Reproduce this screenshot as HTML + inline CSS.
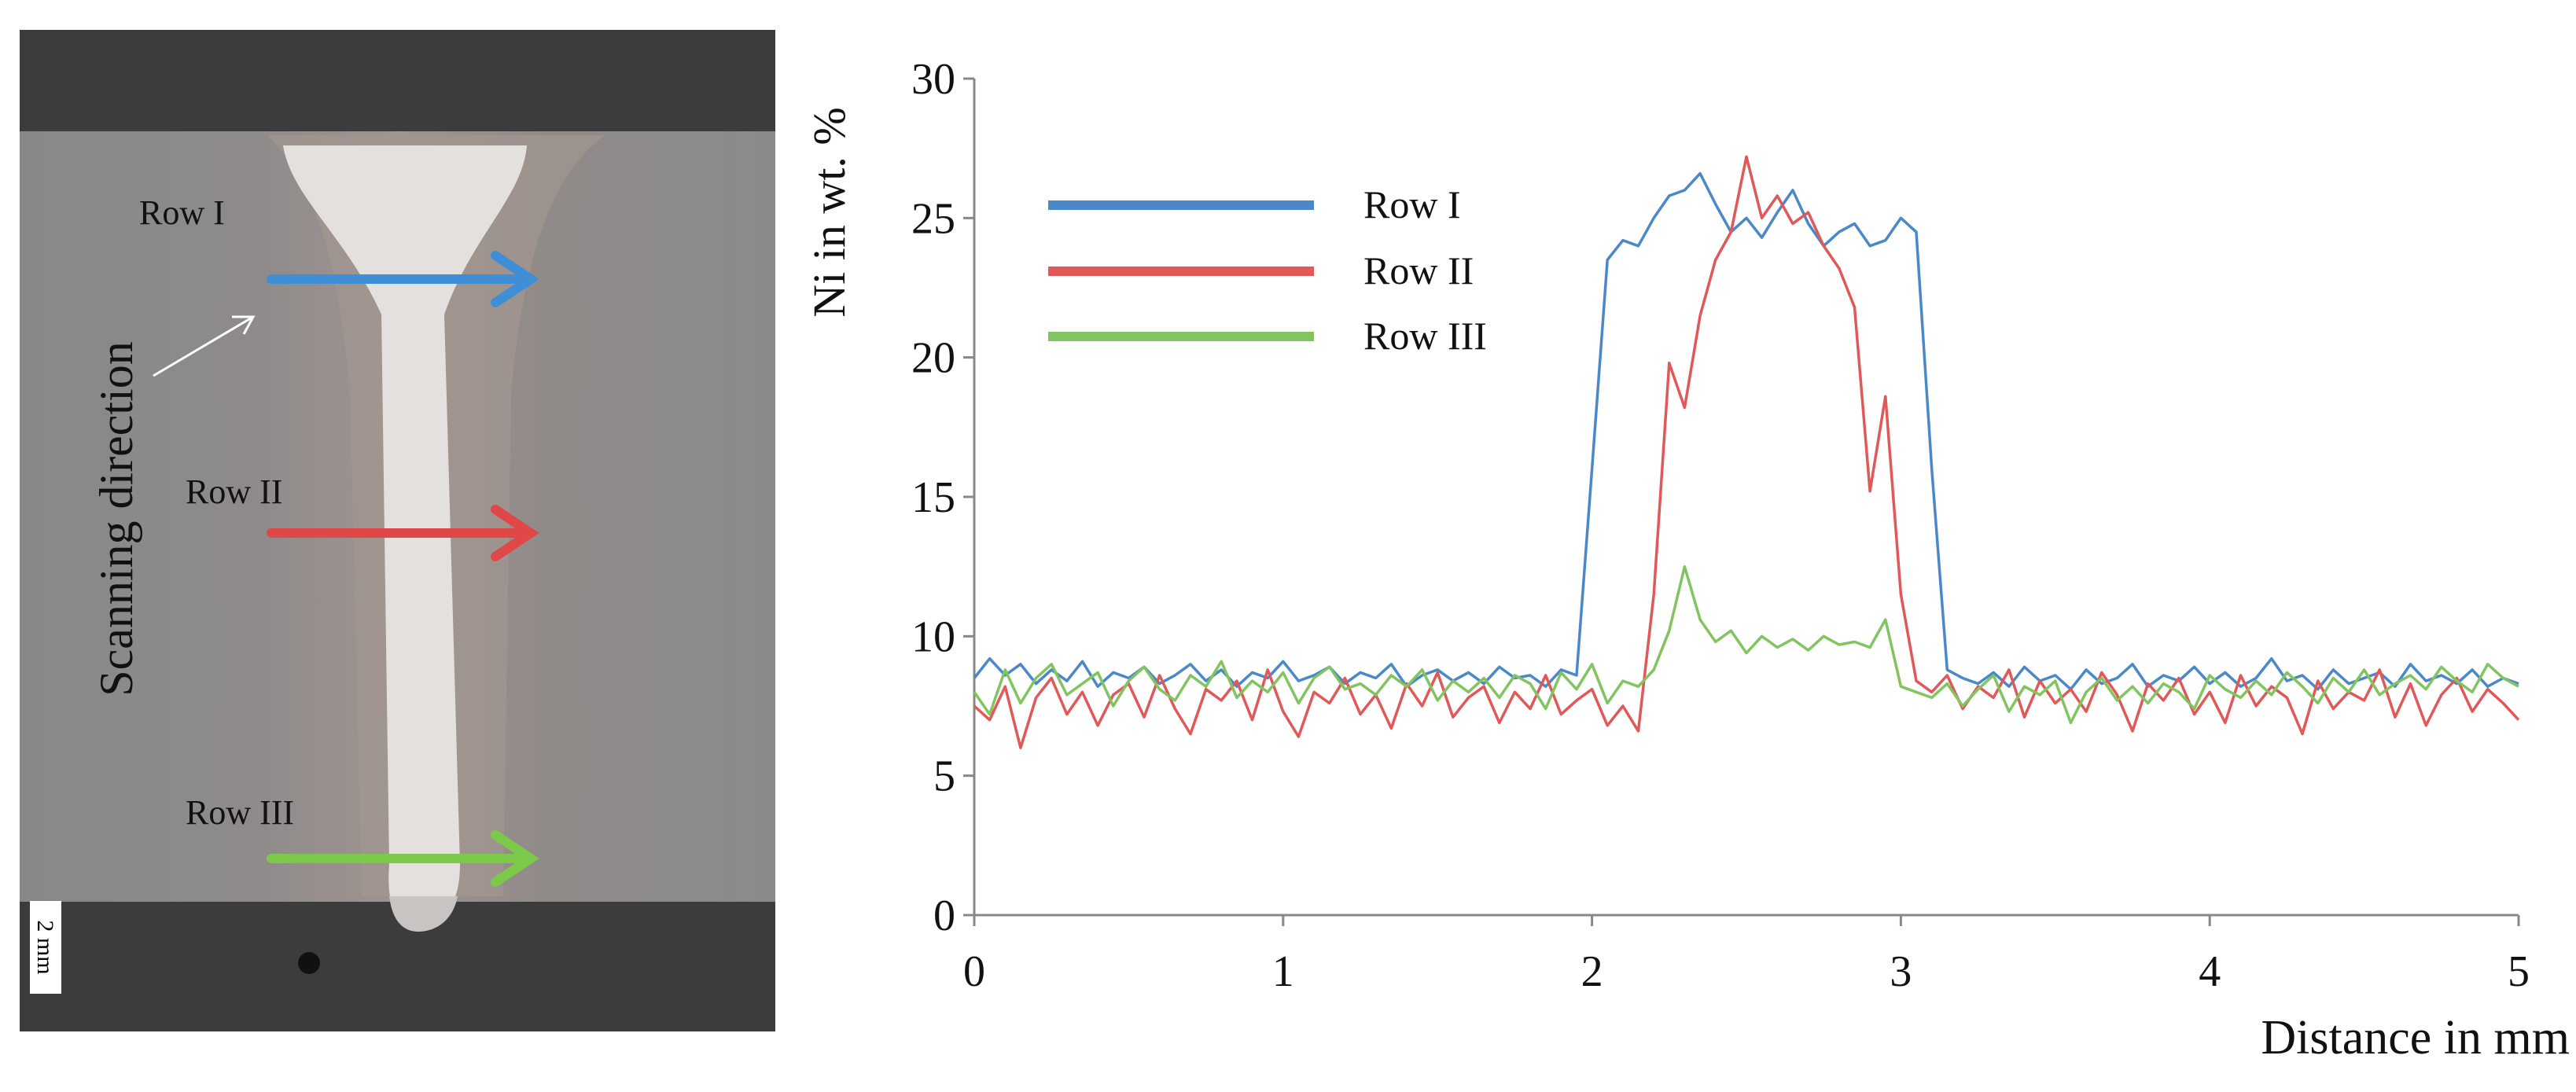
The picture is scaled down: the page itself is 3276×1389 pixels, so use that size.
<!DOCTYPE html>
<html><head><meta charset="utf-8"><style>
html,body{margin:0;padding:0;background:#fff;}
svg{display:block;}
text{font-family:"Liberation Serif",serif;}
</style></head>
<body>
<svg id="fig" width="3276" height="1389" viewBox="0 0 3276 1389" xmlns="http://www.w3.org/2000/svg">
<g>
  <defs>
    <linearGradient id="plate" x1="0" x2="1" y1="0" y2="0">
      <stop offset="0" stop-color="#88888a"/><stop offset="0.3" stop-color="#8e8a8a"/>
      <stop offset="0.5" stop-color="#9e9490"/><stop offset="0.7" stop-color="#908a88"/><stop offset="1" stop-color="#8a8a8c"/>
    </linearGradient>
  </defs>
  <rect x="25" y="38" width="961" height="1274" fill="#3c3c3e"/>
  <rect x="25" y="167" width="961" height="980" fill="url(#plate)"/>
  <path d="M340,172 C400,230 430,330 445,500 L460,1140 L640,1140 L650,500 C665,330 700,220 770,172 Z" fill="#a2968f" opacity="0.75"/>
  <path d="M360,185 L670,185 C665,250 600,300 565,400 L585,1100 C585,1160 555,1180 532,1180 C510,1180 490,1160 495,1100 L485,400 C440,300 370,250 360,185 Z" fill="#e4e0de"/>
  <rect x="25" y="1147" width="961" height="165" fill="#3c3c3e"/>
  <path d="M495,1140 C500,1180 520,1185 532,1185 C550,1185 575,1175 582,1140 Z" fill="#c8c4c2"/>
  <circle cx="393" cy="1225" r="14" fill="#111"/>
  <rect x="38" y="1146" width="40" height="118" fill="#fff"/>
  <text transform="translate(48,1205) rotate(90)" text-anchor="middle" font-family="Liberation Sans" font-size="30" fill="#000">2 mm</text>
  <text x="177" y="285" font-size="44" fill="#111">Row I</text>
  <text x="236" y="640" font-size="44" fill="#111">Row II</text>
  <text x="236" y="1048" font-size="44" fill="#111">Row III</text>
  <text transform="translate(168,660) rotate(-90)" text-anchor="middle" font-size="60" fill="#111">Scanning direction</text>
  <g stroke="#fff" stroke-width="3" fill="none">
    <line x1="195" y1="478" x2="322" y2="403"/><polyline points="295,403 322,403 310,425"/>
  </g>
  <g stroke="#3f8fd6" stroke-width="12" fill="none" stroke-linecap="round">
    <line x1="345" y1="355" x2="670" y2="355"/><polyline points="630,325 675,355 630,385"/>
  </g>
  <g stroke="#e04848" stroke-width="12" fill="none" stroke-linecap="round">
    <line x1="345" y1="678" x2="670" y2="678"/><polyline points="630,648 675,678 630,708"/>
  </g>
  <g stroke="#7cc94a" stroke-width="12" fill="none" stroke-linecap="round">
    <line x1="345" y1="1092" x2="670" y2="1092"/><polyline points="630,1062 675,1092 630,1122"/>
  </g>
</g>
<g id="chart"></g>
</svg>
<script>
const xTicks = [0,1,2,3,4,5];
const yTicks = [0,5,10,15,20,25,30];
const xStep = 0.05;
const rowI = [8.5,9.2,8.6,9.0,8.3,8.8,8.4,9.1,8.2,8.7,8.5,8.9,8.3,8.6,9.0,8.4,8.8,8.2,8.7,8.5,9.1,8.4,8.6,8.9,8.3,8.7,8.5,9.0,8.2,8.6,8.8,8.4,8.7,8.3,8.9,8.5,8.6,8.2,8.8,
 8.6,16.0,23.5,24.2,24.0,25.0,25.8,26.0,26.6,25.5,24.5,25.0,24.3,25.2,26.0,24.8,24.0,24.5,24.8,24.0,24.2,25.0,24.5,16.0,8.8,
 8.5,8.3,8.7,8.2,8.9,8.4,8.6,8.1,8.8,8.3,8.5,9.0,8.2,8.6,8.4,8.9,8.3,8.7,8.2,8.5,9.2,8.4,8.6,8.1,8.8,8.3,8.5,8.7,8.2,9.0,8.4,8.6,8.3,8.8,8.2,8.5,8.3];
const rowII = [7.5,7.0,8.2,6.0,7.8,8.5,7.2,8.0,6.8,7.9,8.3,7.1,8.6,7.4,6.5,8.1,7.7,8.4,7.0,8.8,7.3,6.4,8.0,7.6,8.5,7.2,7.9,6.7,8.3,7.5,8.7,7.1,7.8,8.2,6.9,8.0,7.4,8.6,7.2,7.7,8.1,6.8,7.5,6.6,
 11.5,19.8,18.2,21.5,23.5,24.5,27.2,25.0,25.8,24.8,25.2,24.0,23.2,21.8,15.2,18.6,11.5,8.4,
 8.0,8.6,7.4,8.2,7.8,8.8,7.1,8.4,7.6,8.1,7.3,8.7,7.9,6.6,8.3,7.7,8.5,7.2,8.0,6.9,8.6,7.5,8.2,7.8,6.5,8.4,7.4,8.0,7.7,8.8,7.1,8.3,6.8,7.9,8.5,7.3,8.1,7.6,7.0];
const rowIII = [8.0,7.2,8.8,7.6,8.5,9.0,7.9,8.3,8.7,7.5,8.4,8.9,8.1,7.7,8.6,8.2,9.1,7.8,8.4,8.0,8.7,7.6,8.5,8.9,8.1,8.3,7.9,8.6,8.2,8.8,7.7,8.4,8.0,8.5,7.8,8.6,8.3,7.4,8.7,8.1,9.0,7.6,8.4,8.2,
 8.8,10.2,12.5,10.6,9.8,10.2,9.4,10.0,9.6,9.9,9.5,10.0,9.7,9.8,9.6,10.6,8.2,8.0,
 7.8,8.3,7.5,8.1,8.6,7.3,8.2,7.9,8.4,6.9,8.0,8.5,7.7,8.2,7.6,8.3,8.0,7.4,8.6,8.1,7.8,8.4,7.9,8.7,8.2,7.6,8.5,8.0,8.8,7.9,8.3,8.6,8.1,8.9,8.4,8.0,9.0,8.5,8.2];
const seriesNames = ["Row I","Row II","Row III"];

const NS = "http://www.w3.org/2000/svg";
const X0 = 1239, X1 = 3203, Y0 = 1164, Y1 = 100;
function sx(v){ return X0 + (v - 0) / 5 * (X1 - X0); }
function sy(v){ return Y0 - (v - 0) / 30 * (Y0 - Y1); }
const g = document.getElementById('chart');
function mk(tag, attrs){ const e = document.createElementNS(NS, tag); for (const k in attrs) e.setAttribute(k, attrs[k]); g.appendChild(e); return e; }

let ax = mk('line', {x1:X0, y1:Y1, x2:X0, y2:Y0, stroke:'#888', 'stroke-width':3});


ax = mk('line', {x1:X0, y1:Y0, x2:X1, y2:Y0, stroke:'#888', 'stroke-width':3});



yTicks.forEach(function(t){
  const tk = mk('line', {x1:X0-14, x2:X0, y1:sy(t), y2:sy(t), stroke:'#888', 'stroke-width':3});
  
  
  const lb = mk('text', {x:X0-24, y:sy(t)+19, 'text-anchor':'end', 'font-size':56, fill:'#111'});
  lb.textContent = t;
  
  
});
xTicks.forEach(function(t){
  const tk = mk('line', {x1:sx(t), x2:sx(t), y1:Y0, y2:Y0+14, stroke:'#888', 'stroke-width':3});
  
  
  const lb = mk('text', {x:sx(t), y:Y0+90, 'text-anchor':'middle', 'font-size':56, fill:'#111'});
  lb.textContent = t;
  
  
});

let tt = mk('text', {transform:'translate(1074,270) rotate(-90)', 'text-anchor':'middle', 'font-size':58, fill:'#111'});
tt.textContent = 'Ni in wt. %';


tt = mk('text', {x:3268, y:1340, 'text-anchor':'end', 'font-size':62, fill:'#111'});
tt.textContent = 'Distance in mm';



const series = [rowI, rowII, rowIII];
const colors = ['#4a88c8','#e05858','#82c460'];
const sNames = ['row-i-line','row-ii-line','row-iii-line'];
series.forEach(function(arr, i){
  const pts = arr.map(function(v, j){ return sx(j * xStep).toFixed(1) + ',' + sy(v).toFixed(1); }).join(' ');
  const pl = mk('polyline', {points:pts, fill:'none', stroke:colors[i], 'stroke-width':3.5, 'stroke-linejoin':'round'});
  
  
});

const legY = [261, 345, 428];
seriesNames.forEach(function(n, i){
  const ln = mk('line', {x1:1333, x2:1671, y1:legY[i], y2:legY[i], stroke:colors[i], 'stroke-width':12});
  
  
  const lb = mk('text', {x:1734, y:legY[i]+16, 'font-size':50, fill:'#111'});
  lb.textContent = n;
  
  
});
</script>
</body></html>
